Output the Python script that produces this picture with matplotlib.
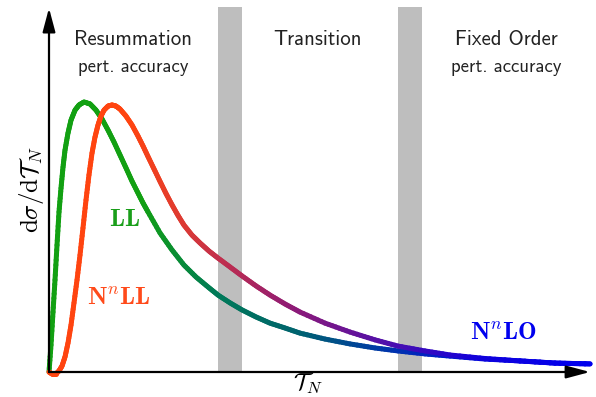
import numpy as np
import matplotlib
matplotlib.use('Agg')
import matplotlib.pyplot as plt
from matplotlib.collections import LineCollection
from matplotlib.colors import LinearSegmentedColormap

plt.rcParams['mathtext.fontset'] = 'cm'

# LL curve (schematic, arbitrary units)
ll_x = [0.000, 0.037, 0.074, 0.111, 0.148, 0.185, 0.222, 0.259, 0.296, 0.351, 0.407,
        0.481, 0.555, 0.647, 0.758, 0.869, 0.980, 1.091, 1.201, 1.312, 1.423, 1.534,
        1.645, 1.738, 1.830, 2.052, 2.274, 2.495, 2.717, 2.939, 3.124, 3.346, 3.567,
        3.826, 4.085, 4.362, 4.640, 5.102, 5.564, 6.026, 6.451, 6.950, 7.412, 8.059,
        8.706, 9.353, 10.000]
ll_y = [0.00, 1.00, 2.22, 3.41, 4.70, 5.93, 6.81, 7.59, 8.22, 8.85, 9.33,
        9.70, 9.89, 10.00, 9.93, 9.70, 9.37, 8.96, 8.52, 8.04, 7.56, 7.07,
        6.63, 6.26, 5.93, 5.15, 4.52, 3.96, 3.52, 3.15, 2.85, 2.56, 2.30,
        2.04, 1.81, 1.63, 1.44, 1.22, 1.04, 0.89, 0.78, 0.67, 0.59, 0.48,
        0.41, 0.33, 0.30]

# N^nLL curve
nll_x = [0.000, 0.055, 0.129, 0.185, 0.240, 0.296, 0.351, 0.407, 0.462, 0.518, 0.573,
         0.628, 0.684, 0.739, 0.795, 0.850, 0.906, 0.961, 1.017, 1.091, 1.165, 1.238,
         1.312, 1.423, 1.534, 1.645, 1.738, 1.830, 1.941, 2.052, 2.163, 2.274, 2.384,
         2.495, 2.643, 2.791, 2.957, 3.124, 3.346, 3.567, 3.826, 4.085, 4.362, 4.640,
         5.102, 5.564, 6.026, 6.451, 6.950, 7.412, 8.059, 8.706, 9.353, 10.000]
nll_y = [0.00, -0.07, -0.07, 0.04, 0.22, 0.56, 1.07, 1.74, 2.56, 3.41, 4.33,
         5.33, 6.37, 7.30, 8.11, 8.70, 9.15, 9.48, 9.70, 9.85, 9.89, 9.85,
         9.74, 9.48, 9.15, 8.74, 8.37, 7.98, 7.52, 7.06, 6.61, 6.19, 5.80,
         5.44, 5.07, 4.78, 4.48, 4.22, 3.89, 3.56, 3.19, 2.85, 2.52, 2.22,
         1.81, 1.48, 1.19, 0.96, 0.78, 0.63, 0.50, 0.41, 0.33, 0.30]

# region boundaries (gray bands)
bands = [(3.12, 3.57), (6.45, 6.89)]
regions = ['Resummation', 'Transition', 'Fixed Order']
region_x = [1.55, 4.97, 8.45]
sub_labels = ['pert. accuracy', '', 'pert. accuracy']

xmax, ymax = 10.0, 13.52

fig = plt.figure(figsize=(5.96, 3.97), dpi=100)
ax = fig.add_axes([49 / 596, 25 / 397, 541 / 596, 365 / 397])
ax.set_xlim(0, xmax)
ax.set_ylim(0, ymax)
ax.axis('off')

for x0, x1 in bands:
    ax.axvspan(x0, x1, color='#bebebe', lw=0, zorder=1)

for name, xc, sub in zip(regions, region_x, sub_labels):
    ax.text(xc, 12.3, name, family='cmss10', fontsize=15, ha='center', va='center',
            color='#222222')
    if sub:
        ax.text(xc, 11.3, sub, family='cmss10', fontsize=13.5, ha='center',
                va='center', color='#222222')


def gradient_line(xs, ys, cmap, lw=3.6):
    xs = np.asarray(xs, float)
    ys = np.asarray(ys, float)
    segs, cols = [], []
    # split each straight piece so the colour changes smoothly along x
    for i in range(len(xs) - 1):
        t = np.linspace(0, 1, 8)
        px = xs[i] + (xs[i + 1] - xs[i]) * t
        py = ys[i] + (ys[i + 1] - ys[i]) * t
        for j in range(len(t) - 1):
            segs.append([(px[j], py[j]), (px[j + 1], py[j + 1])])
            cols.append(cmap(0.5 * (px[j] + px[j + 1]) / xmax))
    lc = LineCollection(segs, colors=cols, linewidths=lw, capstyle='round',
                        joinstyle='round', zorder=3)
    lc.set_clip_on(False)
    ax.add_collection(lc)


green_map = LinearSegmentedColormap.from_list('ll', [
    (0.0, '#12a012'), (0.17, '#12a012'), (0.31, '#007a58'), (0.46, '#00646e'),
    (0.62, '#0038a8'), (0.8, '#0008dc'), (1.0, '#0000ee')])
red_map = LinearSegmentedColormap.from_list('nll', [
    (0.0, '#ff4410'), (0.15, '#ff4410'), (0.25, '#dc3a34'), (0.31, '#c4304a'),
    (0.46, '#8c1a78'), (0.62, '#5210aa'), (0.8, '#1000dc'), (1.0, '#0000ee')])

gradient_line(ll_x, ll_y, green_map)
gradient_line(nll_x, nll_y, red_map)

# axes with arrow heads
arrow = dict(arrowstyle='-|>,head_length=1.2,head_width=0.32', lw=1.6, color='black',
             mutation_scale=12, shrinkA=0, shrinkB=0)
ax.annotate('', xy=(0, ymax - 0.04), xytext=(0, 0), arrowprops=arrow,
            annotation_clip=False, zorder=4)
ax.annotate('', xy=(xmax, 0), xytext=(0, 0), arrowprops=arrow,
            annotation_clip=False, zorder=4)

ax.text(1.40, 5.67, r'$\mathbf{LL}$', color='#1a9e1a', fontsize=18, ha='center',
        va='center')
ax.text(1.29, 2.74, r'$\mathbf{N}^{n}\mathbf{LL}$', color='#ff4a1a', fontsize=18,
        ha='center', va='center')
ax.text(8.41, 1.44, r'$\mathbf{N}^{n}\mathbf{LO}$', color='#0000ee', fontsize=18,
        ha='center', va='center')

ax.text(4.79, -0.42, r'$\mathcal{T}_N$', fontsize=17, ha='center', va='center')
ax.text(-0.33, 6.74, r'$\mathrm{d}\sigma/\mathrm{d}\mathcal{T}_N$', fontsize=18,
        rotation=90, ha='center', va='center')

fig.savefig('out.png', dpi=100, facecolor='white')
